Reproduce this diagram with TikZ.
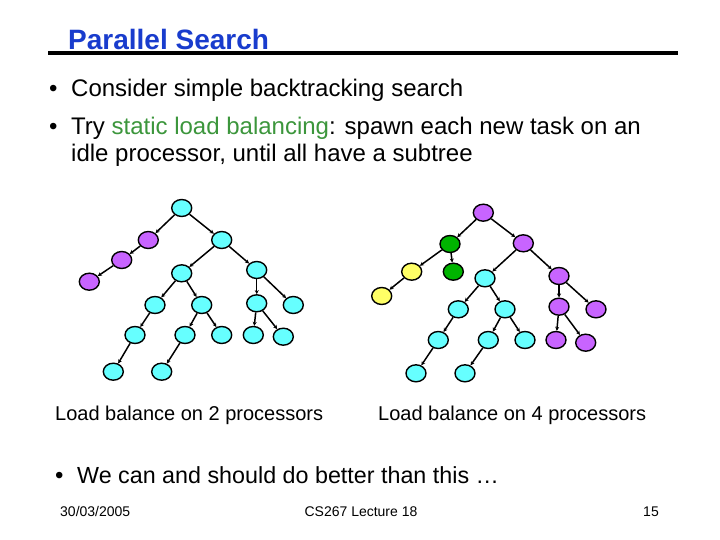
\documentclass[tikz,border=0pt]{standalone}
\usepackage{fontspec}
\setmainfont{Liberation Sans}
\usetikzlibrary{arrows.meta,shapes.geometric}
\definecolor{titleblue}{RGB}{25,60,205}
\definecolor{txtgreen}{RGB}{60,150,60}
\definecolor{ncyan}{RGB}{102,255,255}
\definecolor{npurple}{RGB}{200,100,255}
\definecolor{ngreen}{RGB}{0,180,0}
\definecolor{nyellow}{RGB}{255,255,102}
\tikzset{
  tnode/.style={ellipse,draw=black,line width=1.4pt,minimum width=20pt,minimum height=17pt,inner sep=0pt},
  cy/.style={tnode,fill=ncyan},
  pu/.style={tnode,fill=npurple},
  gr/.style={tnode,fill=ngreen},
  ye/.style={tnode,fill=nyellow},
  edge/.style={line width=1.5pt,-{Stealth[length=4pt,width=4pt]}},
  txt/.style={inner sep=0pt,anchor=base west},
  body/.style={txt,font=\fontsize{24}{28}\selectfont},
  foot/.style={inner sep=0pt,anchor=base,font=\fontsize{14}{16}\selectfont},
}
\begin{document}
\begin{tikzpicture}[x=1pt,y=-1pt]
\useasboundingbox[fill=white] (0,0) rectangle (720,540);
% title
\node[txt,font=\fontsize{28}{32}\selectfont\bfseries,text=titleblue] (title) at (68,50) {Parallel Search};
\draw[line width=4pt] (48,53) -- (678,53);
% bullets
\node[body] (b1) at (49,97) {•};
\node[body] (t1) at (71,97) {Consider simple backtracking search};
\node[body] (b2) at (49,135) {•};
\node[body] (t2) at (71,135) {Try \textcolor{txtgreen}{static load balancing}: spawn each new task on an};
\node[body] (t3) at (71,162) {idle processor, until all have a subtree};
% left tree
\node[cy] (l0) at (181.7,208) {};
\node[pu] (lp1) at (148.3,240) {};
\node[pu] (lp2) at (121.7,260) {};
\node[pu] (lp3) at (89.3,281.7) {};
\node[cy] (la) at (221.7,240) {};
\node[cy] (lb) at (181.7,273.3) {};
\node[cy] (lc) at (256.7,270) {};
\node[cy] (ld) at (155,305) {};
\node[cy] (le) at (201.7,305) {};
\node[cy] (lf) at (256.7,303.3) {};
\node[cy] (lg) at (293.3,305) {};
\node[cy] (lh) at (135,335) {};
\node[cy] (li) at (185,335) {};
\node[cy] (lj) at (221.7,335) {};
\node[cy] (lk) at (253.3,335) {};
\node[cy] (ll) at (283.3,336.7) {};
\node[cy] (lm) at (113.3,371.7) {};
\node[cy] (ln) at (161.7,371.7) {};
\foreach \a/\b in {l0/lp1,lp1/lp2,lp2/lp3,l0/la,la/lb,la/lc,lb/ld,lb/le,lc/lf,lc/lg,ld/lh,le/li,le/lj,lf/lk,lf/ll,lh/lm,li/ln}
  \draw[edge] (\a) -- (\b);
% right tree
\node[pu] (r0) at (483.3,212.7) {};
\node[gr] (rg1) at (450,244) {};
\node[pu] (ra) at (523.3,243.3) {};
\node[ye] (ry1) at (411.7,271.7) {};
\node[gr] (rg2) at (453.3,271.7) {};
\node[cy] (rb) at (485,278.3) {};
\node[pu] (rc) at (559,276) {};
\node[ye] (ry2) at (381.7,296) {};
\node[cy] (rd) at (458.3,309.3) {};
\node[cy] (re) at (505,309.3) {};
\node[pu] (rf) at (559,306.7) {};
\node[pu] (rg) at (596,309.3) {};
\node[cy] (rh) at (438.3,340) {};
\node[cy] (ri) at (488.3,340) {};
\node[cy] (rj) at (525,340) {};
\node[pu] (rk) at (556,340) {};
\node[pu] (rl) at (585.7,342.7) {};
\node[cy] (rm) at (416,373.3) {};
\node[cy] (rn) at (465,373.3) {};
\foreach \a/\b in {r0/rg1,r0/ra,rg1/ry1,rg1/rg2,ry1/ry2,ra/rb,ra/rc,rb/rd,rb/re,rc/rf,rc/rg,rd/rh,re/ri,re/rj,rf/rk,rf/rl,rh/rm,ri/rn}
  \draw[edge] (\a) -- (\b);
% captions
\node[txt,font=\fontsize{20}{23}\selectfont] (c1) at (55,420) {Load balance on 2 processors};
\node[txt,font=\fontsize{20}{23}\selectfont] (c2) at (378,420) {Load balance on 4 processors};
% last bullet
\node[body] (b3) at (55,483) {•};
\node[txt,font=\fontsize{23.3}{27}\selectfont] (t4) at (77,483) {We can and should do better than this …};
% footer
\node[foot,anchor=base west] (f1) at (60,516) {30/03/2005};
\node[foot] (f2) at (361,516) {CS267 Lecture 18};
\node[foot,anchor=base east] (f3) at (659,516) {15};
\end{tikzpicture}
\end{document}
